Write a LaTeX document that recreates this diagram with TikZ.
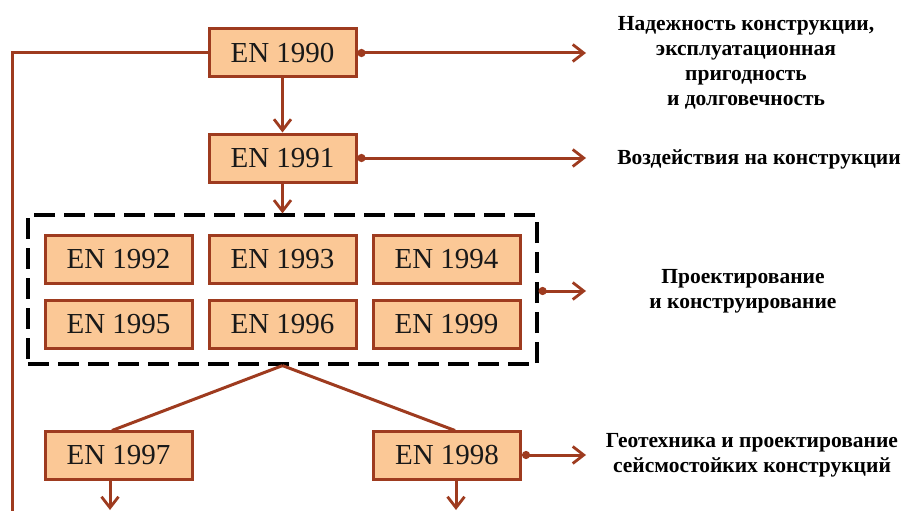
\documentclass[tikz,border=0pt]{standalone}
\usepackage{fontspec}
\setmainfont{Liberation Serif}
\usetikzlibrary{arrows.meta}
\definecolor{boxfill}{HTML}{FBC896}
\definecolor{brown}{HTML}{9E3B1F}
\begin{document}
\begin{tikzpicture}[x=1pt,y=-1pt,
  enbox/.style={draw=brown, fill=boxfill, line width=3pt, minimum width=147pt, minimum height=48pt, inner sep=0pt, font=\fontsize{29}{31}\selectfont, text=black!90},
  conn/.style={draw=brown, line width=3pt},
  arr/.style={conn, -{Straight Barb[length=11pt,width=17pt,line width=2.8pt]}},
  darr/.style={conn, {Circle[length=8pt,width=8pt]}-{Straight Barb[length=11pt,width=17pt,line width=2.8pt]}},
  lbl/.style={align=center, font=\fontsize{21.5}{25}\selectfont\bfseries, inner sep=0pt, text=black},
  grpbox/.style={draw=black, line width=3.2pt, dash pattern=on 21pt off 9pt, minimum width=509pt, minimum height=149pt, inner sep=0pt}
]
\useasboundingbox (0,0) rectangle (906,511);
\node[enbox] (e90) at (282.5,53) {EN 1990};
\node[enbox] (e91) at (282.5,158) {EN 1991};
\node[grpbox] (grp) at (282.5,289.5) {};
\node[enbox] (e92) at (118.5,259.5) {EN 1992};
\node[enbox] (e93) at (282.5,259.5) {EN 1993};
\node[enbox] (e94) at (446.5,259.5) {EN 1994};
\node[enbox] (e95) at (118.5,324.5) {EN 1995};
\node[enbox] (e96) at (282.5,324.5) {EN 1996};
\node[enbox] (e99) at (446.5,324.5) {EN 1999};
\node[enbox] (e97) at (118.5,455) {EN 1997};
\node[enbox] (e98) at (447,455) {EN 1998};

\node[lbl] (t90) at (746,63) {Надежность конструкции,\\эксплуатационная\\пригодность\\и долговечность};
\node[lbl] (t91) at (759,159) {Воздействия на конструкции};
\node[lbl] (tgrp) at (743,291.5) {Проектирование\\и конструирование};
\node[lbl] (t98) at (752,455.5) {Геотехника и проектирование\\сейсмостойких конструкций};

\coordinate (a90) at (586,53);
\coordinate (a91) at (586,158);
\coordinate (agrp) at (586,291);
\coordinate (a98) at (586,455);
\coordinate (lt) at (12,53);
\coordinate (lb) at (12,511);
\coordinate (b97) at (110,510);
\coordinate (b98) at (456,510);

\draw[darr] (e90.east) -- (a90);
\draw[darr] (e91.east) -- (a91);
\draw[darr] (grp.east |- agrp) -- (agrp);
\draw[darr] (e98.east) -- (a98);
\draw[arr] (e90.south) -- (e91.north);
\draw[arr] (e91.south) -- (grp.north);
\draw[conn] (e90.west) -- (lt) -- (lb);
\draw[conn] (grp.south) -- (112,430.5);
\draw[conn] (grp.south) -- (455,430.5);
\draw[arr] (e97.south -| b97) -- (b97);
\draw[arr] (e98.south -| b98) -- (b98);
\end{tikzpicture}
\end{document}
